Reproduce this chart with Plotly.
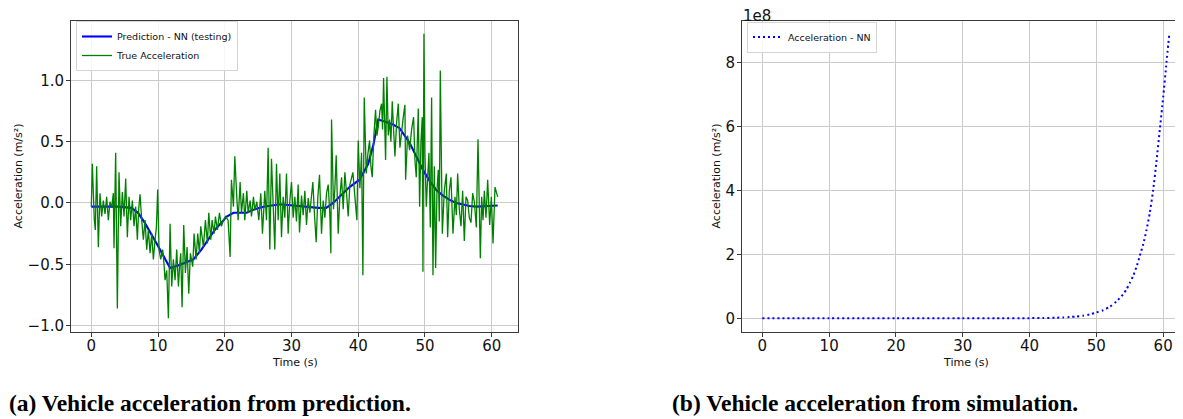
import plotly.graph_objects as go

# The page body adds an 8px margin, so the figure is 8px smaller and every
# screen position below is shifted by OFF.
SCREEN_W, SCREEN_H = 1183, 419
OFF = 8
FW, FH = SCREEN_W - OFF, SCREEN_H - OFF

# ---------------- data ----------------
pred_time = [0, 2, 4, 6, 7, 8, 9, 10, 11, 11.8, 13, 14, 15.3, 16.5, 17.5, 18.5, 19.5, 20.3,
             21.3, 23.3, 24.5, 25.8, 28.3, 31.7, 34, 35.2, 36, 36.7, 37.7, 38.7, 40.2, 41.5,
             42.3, 43.0, 44.2, 45.2, 46.2, 47.0, 47.7, 48.7, 49.7, 50.7, 51.7, 52.7, 53.7,
             54.7, 55.7, 56.7, 57.7, 59, 60.9]
pred_accel = [-0.03, -0.03, -0.03, -0.04, -0.08, -0.16, -0.25, -0.35, -0.45, -0.53, -0.51,
              -0.49, -0.46, -0.38, -0.30, -0.22, -0.16, -0.11, -0.08, -0.08, -0.05, -0.03,
              -0.01, -0.03, -0.04, -0.04, -0.01, 0.025, 0.08, 0.13, 0.19, 0.32, 0.48, 0.68,
              0.66, 0.64, 0.61, 0.55, 0.49, 0.38, 0.27, 0.18, 0.106, 0.06, 0.025, 0.0,
              -0.015, -0.025, -0.03, -0.025, -0.02]

true_time = [
    0, 0.15, 0.45, 0.6, 0.8, 1.05, 1.3, 1.55, 1.8, 2.05,
    2.3, 2.55, 2.8, 3.05, 3.3, 3.4, 3.65, 3.9, 4.15, 4.4,
    4.65, 4.9, 5.15, 5.4, 5.65, 5.9, 6.15, 6.4, 6.65, 6.9,
    7.1, 7.3, 7.55, 7.8, 8.05, 8.3, 8.55, 8.8, 9.05, 9.3,
    9.55, 9.75, 9.95, 10.15, 10.4, 10.7, 10.9, 11.05, 11.3, 11.55,
    11.8, 12.05, 12.3, 12.55, 12.8, 13.05, 13.25, 13.4, 13.6, 13.85,
    14.1, 14.35, 14.6, 14.85, 15.2, 15.4, 15.7, 15.95, 16.2, 16.4,
    16.8, 17.1, 17.4, 17.6, 17.9, 18.1, 18.4, 18.6, 18.9, 19.2,
    19.5, 19.8, 20.1, 20.5, 20.8, 21.0, 21.3, 21.5, 21.8, 22.0,
    22.3, 22.5, 22.8, 23.0, 23.3, 23.5, 23.8, 24.0, 24.3, 24.5,
    24.8, 25.1, 25.4, 25.65, 26.0, 26.25, 26.5, 26.75, 27.0, 27.25,
    27.5, 27.75, 28.0, 28.25, 28.5,
    28.75, 29.0, 29.25, 29.5, 29.75, 30.0, 30.25, 30.5, 30.75, 31.0,
    31.2, 31.5, 31.75, 32.0, 32.25, 32.5, 32.75, 33.0, 33.2, 33.45,
    33.7, 33.95, 34.2, 34.5, 34.75, 35.0, 35.25, 35.5, 35.75, 35.9,
    36.0, 36.3, 36.5, 36.7, 37.0, 37.25, 37.5, 37.75, 38.0, 38.25,
    38.5, 38.75, 39.0, 39.2, 39.5, 39.8, 40.0, 40.25, 40.5, 40.7,
    40.9, 41.2, 41.45, 41.7, 41.9, 42.1, 42.35, 42.6, 42.8, 43.0,
    43.25, 43.5, 43.65, 43.8, 44.1, 44.3, 44.5, 44.7, 44.9, 45.1,
    45.3, 45.5, 45.75, 46.0, 46.25, 46.5, 46.75, 47.0, 47.1, 47.4,
    47.7, 48.0, 48.3, 48.5, 48.7, 49.0, 49.2, 49.4, 49.6, 49.7,
    49.85, 50.0, 50.2, 50.4, 50.6, 50.8, 51.0, 51.2, 51.4, 51.6,
    51.8, 52.0, 52.15, 52.3, 52.6, 52.9, 53.2, 53.4, 53.65, 53.9,
    54.2, 54.5, 54.7, 54.9, 55.15, 55.4, 55.65, 55.9, 56.15, 56.4,
    56.65, 56.9, 57.15, 57.4, 57.7, 57.95, 58.3, 58.5, 58.7, 58.9,
    59.15, 59.4, 59.7, 59.95, 60.2, 60.5, 60.7, 60.9,
]
true_accel = [
    -0.03, 0.32, -0.14, -0.22, 0.30, -0.36, 0.08, -0.11, 0.02, -0.09,
    0.05, -0.14, 0.01, -0.04, 0.08, -0.37, 0.41, -0.86, 0.25, -0.19,
    0.09, -0.11, 0.20, -0.28, 0.05, -0.14, 0.02, -0.19, -0.03, -0.30,
    -0.05, 0.07, -0.14, -0.30, -0.14, -0.38, -0.22, -0.41, -0.25, -0.46,
    -0.30, -0.20, 0.11, -0.38, -0.46, -0.38, -0.50, -0.63, -0.55, -0.94,
    -0.17, -0.68, -0.46, -0.63, -0.38, -0.68, -0.50, -0.41, -0.85, -0.18,
    -0.57, -0.36, -0.74, -0.41, -0.52, -0.25, -0.46, -0.25, -0.41, -0.19,
    -0.36, -0.14, -0.33, -0.08, -0.30, -0.14, -0.25, -0.11, -0.22, -0.08,
    -0.19, -0.14, -0.11, -0.14, -0.44, 0.19, -0.03, 0.38, 0.05, -0.14,
    0.17, -0.08, 0.08, -0.14, 0.10, -0.08, 0.02, -0.11, 0.05, -0.06,
    0.01, -0.14, 0.08, -0.25, 0.10, -0.14, 0.45, -0.38, 0.36, -0.08,
    -0.38, 0.32, -0.14, 0.24, -0.28,
    0.05, -0.12, 0.24, -0.25, 0.02, 0.17, -0.12, 0.05, -0.15, 0.15,
    -0.24, 0.06, -0.10, 0.10, -0.18, 0.04, -0.08, 0.08, 0.17, -0.10,
    -0.32, 0.05, 0.23, -0.25, 0.02, -0.12, 0.08, 0.15, -0.10, -0.41,
    0.68, -0.05, 0.12, 0.39, -0.25, 0.05, 0.21, -0.05, 0.25, 0.08,
    -0.11, 0.15, 0.21, 0.25, 0.05, -0.14, 0.51, 0.12, 0.41, -0.59,
    0.86, 0.24, 0.40, 0.51, 0.30, 0.21, 0.55, 0.76, 0.55, 0.62,
    0.75, 0.81, 0.60, 1.02, 0.35, 1.03, 0.55, 0.68, 0.50, 0.83,
    0.60, 0.38, 0.65, 0.81, 0.45, 0.60, 0.70, 0.80, 0.19, 0.55,
    0.43, 0.60, 0.70, 0.35, 0.21, 0.77, -0.03, 0.50, 0.70, -0.56,
    1.38, 0.40, -0.03, 0.20, 0.41, -0.20, 0.86, -0.59, 0.30, -0.53,
    0.10, 0.27, -0.15, 1.08, -0.25, 0.10, 0.24, -0.28, 0.10, 0.21,
    -0.25, 0.05, -0.10, 0.24, -0.05, -0.19, 0.10, -0.31, 0.05, 0.02,
    -0.12, -0.16, 0.08, 0.01, -0.20, 0.52, -0.45, 0.05, -0.14, 0.10,
    -0.12, 0.19, -0.18, 0.05, -0.33, 0.13, 0.08, 0.05,
]
assert len(true_time) == len(true_accel), (len(true_time), len(true_accel))

sim_time = [0, 10, 20, 30, 35, 40, 42, 44, 45, 46, 47, 48, 49, 50, 51, 52, 53, 54, 54.5,
            55, 55.5, 56, 56.5, 57, 57.5, 58, 58.5, 59, 59.5, 60, 60.5, 60.9]
sim_accel_1e8 = [0, 0, 0.0, 0.0001, 0.0006, 0.004, 0.008, 0.017, 0.025, 0.037, 0.055, 0.08,
                 0.12, 0.18, 0.25, 0.36, 0.52, 0.75, 0.9, 1.1, 1.32, 1.6, 1.95, 2.3, 2.75,
                 3.3, 4.0, 4.9, 5.9, 6.9, 8.0, 8.85]

x_ticks = [0, 10, 20, 30, 40, 50, 60]
left_y_ticks = [-1.0, -0.5, 0.0, 0.5, 1.0]
left_y_text = ["\u22121.0", "\u22120.5", "0.0", "0.5", "1.0"]
right_y_ticks = [0, 2, 4, 6, 8]

# ---------------- figure ----------------
def px(x):
    """screen x (pixels) -> paper fraction"""
    return (x - OFF) / FW

def py(y):
    """screen y (pixels from top) -> paper fraction"""
    return 1 - (y - OFF) / FH

FONT = "DejaVu Sans"
GRID = "#cbcbcb"
AX = "#3a3a3a"

fig = go.Figure()
fig.add_trace(go.Scatter(x=pred_time, y=pred_accel, mode="lines",
                         line=dict(color="#0000ff", width=2.1),
                         name="Prediction - NN (testing)", xaxis="x", yaxis="y",
                         legend="legend"))
fig.add_trace(go.Scatter(x=true_time, y=true_accel, mode="lines",
                         line=dict(color="#008000", width=1.3),
                         name="True Acceleration", xaxis="x", yaxis="y",
                         legend="legend"))
fig.add_trace(go.Scatter(x=sim_time, y=[v * 1e8 for v in sim_accel_1e8], mode="lines",
                         line=dict(color="#0000ff", width=2, dash="2px,3px", shape="spline",
                                   smoothing=0.6),
                         name="Acceleration - NN", xaxis="x2", yaxis="y2",
                         legend="legend2"))

axis_common = dict(showgrid=True, gridcolor=GRID, gridwidth=1, zeroline=False,
                   showline=True, linecolor=AX, linewidth=1, ticks="outside",
                   ticklen=4, tickwidth=1, tickcolor=AX, automargin=False,
                   tickfont=dict(family=FONT, size=15, color="#111"))
x_common = dict(axis_common, ticklabelstandoff=-4)
y_common = dict(axis_common, ticklabelstandoff=-1)

PX_PER_S = 6.68
fig.update_layout(
    template="none",
    width=FW, height=FH, margin=dict(l=0, r=0, t=0, b=0, pad=0, autoexpand=False),
    paper_bgcolor="white", plot_bgcolor="white",
    font=dict(family=FONT),
    xaxis=dict(x_common, domain=[px(71), px(518)], range=[-3.045, 63.945],
               tickvals=x_ticks, mirror=True, anchor="y"),
    yaxis=dict(y_common, domain=[py(332), py(21)], range=[-1.052, 1.484],
               tickvals=left_y_ticks, ticktext=left_y_text, mirror=True, anchor="x"),
    xaxis2=dict(x_common, domain=[px(742), 1.0],
                range=[-3.045, -3.045 + (SCREEN_W - 742) / PX_PER_S],
                tickvals=x_ticks, mirror=True, anchor="y2"),
    yaxis2=dict(y_common, domain=[py(332), py(21)], range=[-0.43e8, 9.30e8],
                tickvals=[v * 1e8 for v in right_y_ticks],
                ticktext=[str(v) for v in right_y_ticks], mirror=False, anchor="x2"),
    legend=dict(x=px(76), y=py(21), xanchor="left", yanchor="top",
                bgcolor="rgba(255,255,255,0.85)", bordercolor="#d5d5d5", borderwidth=1,
                font=dict(family=FONT, size=9.5, color="#111"), tracegroupgap=0,
                itemwidth=30),
    legend2=dict(x=px(747), y=py(21.5), xanchor="left", yanchor="top",
                 bgcolor="rgba(255,255,255,0.85)", bordercolor="#d5d5d5", borderwidth=1,
                 font=dict(family=FONT, size=9.5, color="#111"), itemwidth=30),
    showlegend=True,
)

def label(text, x, y, size, family=FONT, angle=0, xanchor="center", color="#111"):
    return dict(text=text, x=px(x), y=py(y), xref="paper", yref="paper",
                xanchor=xanchor, yanchor="middle", textangle=angle, showarrow=False,
                font=dict(family=family, size=size, color=color))

ann = [
    label("Acceleration (m/s\u00b2)", 18, 176.5, 11, angle=-90),
    label("Acceleration (m/s\u00b2)", 716, 176.5, 11, angle=-90),
    label("Time (s)", 294.5, 362.5, 11),
    label("Time (s)", 965.5, 362.5, 11),
    label("1e8", 741, 15.5, 15, xanchor="left"),
    label("<b>(a) Vehicle acceleration from prediction.</b>", 7, 403, 23.5,
          family="Liberation Serif", xanchor="left", color="#000"),
    label("<b>(b) Vehicle acceleration from simulation.</b>", 669.5, 403, 23.5,
          family="Liberation Serif", xanchor="left", color="#000"),
]
fig.update_layout(annotations=ann)

fig.write_html("out.html")
